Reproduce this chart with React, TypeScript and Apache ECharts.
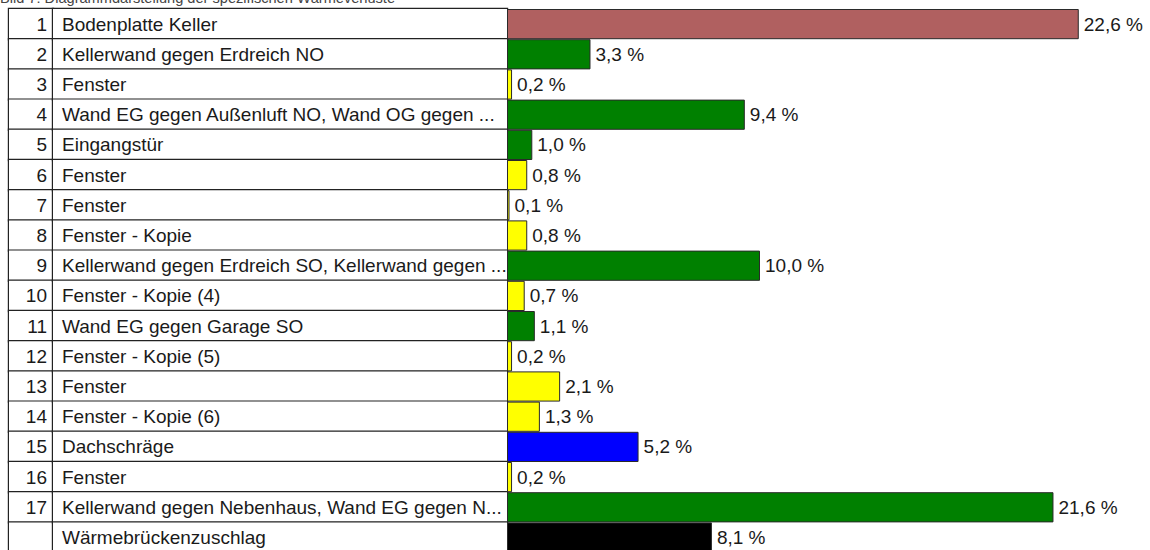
import React, { useEffect, useRef } from "react";
import * as echarts from "echarts";

const rowNumbers = ["1", "2", "3", "4", "5", "6", "7", "8", "9", "10", "11", "12", "13", "14", "15", "16", "17", ""];
const names = [
  "Bodenplatte Keller",
  "Kellerwand gegen Erdreich NO",
  "Fenster",
  "Wand EG gegen Außenluft NO, Wand OG gegen ...",
  "Eingangstür",
  "Fenster",
  "Fenster",
  "Fenster - Kopie",
  "Kellerwand gegen Erdreich SO, Kellerwand gegen ...",
  "Fenster - Kopie (4)",
  "Wand EG gegen Garage SO",
  "Fenster - Kopie (5)",
  "Fenster",
  "Fenster - Kopie (6)",
  "Dachschräge",
  "Fenster",
  "Kellerwand gegen Nebenhaus, Wand EG gegen N...",
  "Wärmebrückenzuschlag",
];
const values = [22.6, 3.3, 0.2, 9.4, 1.0, 0.8, 0.1, 0.8, 10.0, 0.7, 1.1, 0.2, 2.1, 1.3, 5.2, 0.2, 21.6, 8.1];
const barColors = [
  "#b06060", "#008000", "#ffff00", "#008000", "#008000", "#ffff00", "#ffff00", "#ffff00", "#008000",
  "#ffff00", "#008000", "#ffff00", "#ffff00", "#ffff00", "#0000ff", "#ffff00", "#008000", "#000000",
];
const titleText = "Bild 7: Diagrammdarstellung der spezifischen Wärmeverluste";

export default function App() {
  const ref = useRef<HTMLDivElement>(null);
  useEffect(() => {
    if (!ref.current) return;
    const chart = echarts.init(ref.current, undefined, { renderer: "svg" });
    const font = "'Liberation Sans', Arial, sans-serif";
    const rowH = 30.2;
    const fs = 19;
    chart.setOption({
      animation: false,
      backgroundColor: "#ffffff",
      textStyle: { fontFamily: font },
      graphic: [
        {
          type: "text",
          left: 0,
          top: -10,
          style: { text: titleText, fontSize: 14.6, fill: "#444", fontFamily: font },
        },
      ],
      grid: {
        left: 507,
        top: 9,
        width: 25 * 25.3,
        height: rowH * 18,
        containLabel: false,
        outerBoundsMode: "none",
      },
      xAxis: { type: "value", min: 0, max: 25, show: false },
      yAxis: [
        {
          type: "category",
          position: "left",
          inverse: true,
          data: rowNumbers,
          axisLine: { show: false },
          axisTick: { show: false },
          axisLabel: {
            interval: 0,
            margin: 454,
            align: "right",
            verticalAlign: "middle",
            width: 44 - 6,
            height: rowH,
            lineHeight: rowH,
            padding: [0, 6, 0, 0],
            borderColor: "#222",
            borderWidth: 1.2,
            backgroundColor: "#fff",
            color: "#1a1a1a",
            fontSize: fs,
            fontFamily: font,
          },
        },
        {
          type: "category",
          position: "left",
          offset: 0,
          inverse: true,
          data: names,
          axisLine: { show: false },
          axisTick: { show: false },
          axisLabel: {
            interval: 0,
            margin: 454,
            align: "left",
            verticalAlign: "middle",
            width: 454 - 9,
            height: rowH,
            lineHeight: rowH,
            padding: [0, 0, 0, 9],
            borderColor: "#222",
            borderWidth: 1.2,
            backgroundColor: "#fff",
            color: "#1a1a1a",
            fontSize: fs,
            fontFamily: font,
            overflow: "none",
          },
        },
      ],
      series: [
        {
          type: "bar",
          yAxisIndex: 0,
          barCategoryGap: 0,
          data: values.map((v, i) => ({
            value: v,
            itemStyle: { color: barColors[i], borderColor: "#2a2a2a", borderWidth: 1 },
          })),
          label: {
            show: true,
            position: "right",
            distance: 5,
            color: "#1a1a1a",
            fontSize: fs,
            fontFamily: font,
            formatter: (p: any) => p.value.toFixed(1).replace(".", ",") + " %",
          },
        },
      ],
    });
    return () => chart.dispose();
  }, []);
  return (
    <div
      ref={ref}
      style={{ position: "fixed", left: 0, top: 0, width: 1150, height: 550, background: "#fff" }}
    />
  );
}
